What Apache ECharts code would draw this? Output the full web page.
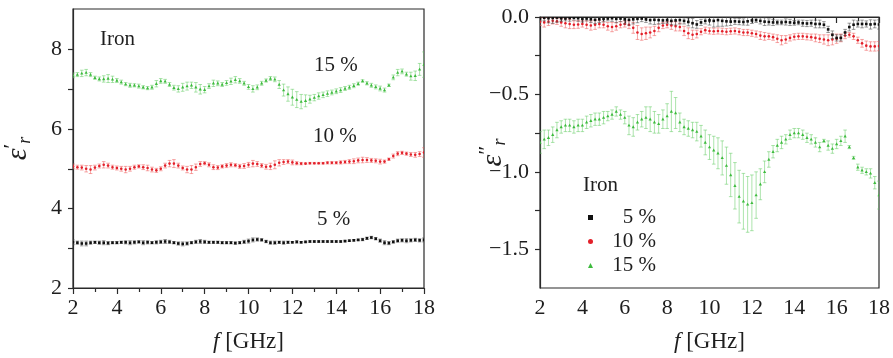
<!DOCTYPE html>
<html>
<head>
<meta charset="utf-8">
<script src="https://cdn.jsdelivr.net/npm/echarts@6/dist/echarts.min.js"></script>
<style>
html, body { margin: 0; padding: 0; background: #fff; }
#chart { width: 893px; height: 358px; }
</style>
</head>
<body>
<div id="chart"></div>
<script>
// frequency grid [GHz]
const freq = [
  2.0, 2.2, 2.4, 2.6, 2.8, 3.0, 3.2, 3.4, 3.6, 3.8,
  4.0, 4.2, 4.4, 4.6, 4.8, 5.0, 5.2, 5.4, 5.6, 5.8,
  6.0, 6.2, 6.4, 6.6, 6.8, 7.0, 7.2, 7.4, 7.6, 7.8,
  8.0, 8.2, 8.4, 8.6, 8.8, 9.0, 9.2, 9.4, 9.6, 9.8,
  10.0, 10.2, 10.4, 10.6, 10.8, 11.0, 11.2, 11.4, 11.6, 11.8,
  12.0, 12.2, 12.4, 12.6, 12.8, 13.0, 13.2, 13.4, 13.6, 13.8,
  14.0, 14.2, 14.4, 14.6, 14.8, 15.0, 15.2, 15.4, 15.6, 15.8,
  16.0, 16.2, 16.4, 16.6, 16.8, 17.0, 17.2, 17.4, 17.6, 17.8,
  18.0
];

// real part, eps'
const re15 = [
  7.35, 7.37, 7.40, 7.42, 7.37, 7.29, 7.26, 7.26, 7.27, 7.25,
  7.22, 7.18, 7.13, 7.10, 7.10, 7.08, 7.05, 7.03, 7.05, 7.14,
  7.21, 7.20, 7.12, 7.04, 7.01, 7.05, 7.08, 7.10, 7.05, 7.00,
  6.99, 7.08, 7.15, 7.15, 7.12, 7.16, 7.20, 7.24, 7.21, 7.15,
  7.06, 7.01, 7.05, 7.15, 7.22, 7.27, 7.25, 7.12, 6.98, 6.88,
  6.80, 6.74, 6.69, 6.71, 6.75, 6.79, 6.83, 6.86, 6.89, 6.92,
  6.95, 6.98, 7.02, 7.05, 7.09, 7.14, 7.21, 7.15, 7.10, 7.06,
  7.02, 6.98, 7.10, 7.30, 7.42, 7.45, 7.38, 7.33, 7.34, 7.50,
  7.62
];
const re15Err = [
  0.06, 0.05, 0.08, 0.08, 0.05, 0.04, 0.05, 0.08, 0.10, 0.08,
  0.05, 0.05, 0.04, 0.05, 0.04, 0.05, 0.04, 0.04, 0.05, 0.08,
  0.06, 0.05, 0.05, 0.06, 0.08, 0.10, 0.10, 0.08, 0.12, 0.12,
  0.08, 0.06, 0.08, 0.06, 0.05, 0.06, 0.08, 0.08, 0.06, 0.05,
  0.06, 0.08, 0.06, 0.05, 0.04, 0.05, 0.06, 0.10, 0.15, 0.18,
  0.20, 0.20, 0.18, 0.15, 0.10, 0.08, 0.08, 0.07, 0.07, 0.06,
  0.06, 0.06, 0.05, 0.05, 0.05, 0.04, 0.03, 0.04, 0.05, 0.05,
  0.06, 0.05, 0.03, 0.06, 0.08, 0.06, 0.05, 0.10, 0.12, 0.15,
  0.32
];
const re10 = [
  5.06, 5.04, 5.03, 5.00, 4.98, 5.03, 5.07, 5.10, 5.08, 5.04,
  5.02, 5.00, 4.98, 5.00, 5.04, 5.06, 5.04, 5.02, 4.98, 4.96,
  5.00, 5.08, 5.13, 5.13, 5.08, 5.02, 4.98, 4.98, 5.04, 5.12,
  5.14, 5.10, 5.04, 5.03, 5.06, 5.08, 5.10, 5.09, 5.06, 5.07,
  5.10, 5.13, 5.12, 5.08, 5.05, 5.06, 5.10, 5.15, 5.17, 5.18,
  5.16, 5.14, 5.13, 5.13, 5.14, 5.14, 5.14, 5.14, 5.15, 5.15,
  5.15, 5.16, 5.17, 5.18, 5.19, 5.21, 5.22, 5.22, 5.21, 5.20,
  5.18, 5.18, 5.24, 5.32, 5.38, 5.40, 5.38, 5.36, 5.35, 5.37,
  5.41
];
const re10Err = [
  0.06, 0.05, 0.06, 0.08, 0.10, 0.06, 0.05, 0.08, 0.06, 0.05,
  0.05, 0.06, 0.08, 0.06, 0.05, 0.04, 0.06, 0.07, 0.06, 0.05,
  0.05, 0.06, 0.08, 0.10, 0.06, 0.05, 0.08, 0.10, 0.08, 0.06,
  0.04, 0.05, 0.06, 0.05, 0.04, 0.05, 0.05, 0.04, 0.05, 0.06,
  0.06, 0.08, 0.06, 0.05, 0.06, 0.08, 0.10, 0.08, 0.06, 0.05,
  0.06, 0.04, 0.03, 0.02, 0.02, 0.02, 0.02, 0.02, 0.03, 0.03,
  0.03, 0.04, 0.04, 0.05, 0.06, 0.06, 0.07, 0.06, 0.05, 0.05,
  0.06, 0.04, 0.03, 0.05, 0.05, 0.04, 0.04, 0.05, 0.06, 0.06,
  0.12
];
const re5 = [
  3.15, 3.14, 3.12, 3.12, 3.14, 3.15, 3.14, 3.14, 3.13, 3.14,
  3.14, 3.15, 3.15, 3.14, 3.15, 3.16, 3.14, 3.15, 3.14, 3.15,
  3.16, 3.17, 3.16, 3.14, 3.12, 3.11, 3.12, 3.14, 3.16, 3.17,
  3.16, 3.15, 3.15, 3.15, 3.14, 3.14, 3.14, 3.13, 3.14, 3.16,
  3.18, 3.21, 3.22, 3.21, 3.17, 3.14, 3.14, 3.15, 3.14, 3.15,
  3.15, 3.16, 3.15, 3.16, 3.17, 3.17, 3.17, 3.17, 3.17, 3.17,
  3.17, 3.17, 3.18, 3.19, 3.20, 3.21, 3.22, 3.25, 3.27, 3.24,
  3.19, 3.14, 3.13, 3.16, 3.19, 3.20, 3.19, 3.20, 3.21, 3.20,
  3.21
];
const re5Err = [
  0.06, 0.04, 0.06, 0.06, 0.04, 0.03, 0.04, 0.05, 0.04, 0.03,
  0.03, 0.03, 0.04, 0.05, 0.04, 0.03, 0.05, 0.04, 0.03, 0.04,
  0.04, 0.05, 0.04, 0.03, 0.04, 0.05, 0.04, 0.03, 0.04, 0.05,
  0.04, 0.03, 0.03, 0.03, 0.03, 0.03, 0.03, 0.03, 0.03, 0.04,
  0.05, 0.05, 0.04, 0.03, 0.03, 0.04, 0.04, 0.03, 0.04, 0.03,
  0.02, 0.03, 0.02, 0.02, 0.02, 0.02, 0.02, 0.02, 0.02, 0.02,
  0.02, 0.02, 0.02, 0.02, 0.02, 0.02, 0.03, 0.03, 0.03, 0.03,
  0.04, 0.05, 0.04, 0.03, 0.04, 0.04, 0.05, 0.04, 0.04, 0.04,
  0.05
];

// imaginary part, eps''
const im5 = [
  -0.010, -0.005, -0.008, -0.006, -0.004, -0.008, -0.010, -0.007, -0.005, -0.008,
  -0.012, -0.010, -0.015, -0.018, -0.015, -0.012, -0.010, -0.008, -0.012, -0.010,
  -0.015, -0.018, -0.015, -0.012, -0.010, -0.015, -0.020, -0.018, -0.020, -0.022,
  -0.020, -0.025, -0.022, -0.020, -0.025, -0.032, -0.040, -0.048, -0.035, -0.025,
  -0.022, -0.025, -0.020, -0.025, -0.028, -0.030, -0.028, -0.030, -0.032, -0.028,
  -0.022, -0.020, -0.025, -0.030, -0.032, -0.035, -0.035, -0.035, -0.032, -0.035,
  -0.038, -0.035, -0.040, -0.042, -0.040, -0.045, -0.045, -0.050, -0.080, -0.115,
  -0.135, -0.135, -0.100, -0.065, -0.050, -0.045, -0.045, -0.045, -0.048, -0.045,
  -0.048
];
const im5Err = [
  0.015, 0.020, 0.030, 0.035, 0.030, 0.020, 0.015, 0.020, 0.015, 0.020,
  0.020, 0.015, 0.020, 0.025, 0.020, 0.020, 0.015, 0.020, 0.025, 0.020,
  0.030, 0.035, 0.030, 0.025, 0.020, 0.020, 0.025, 0.030, 0.025, 0.020,
  0.020, 0.025, 0.030, 0.025, 0.020, 0.025, 0.030, 0.025, 0.020, 0.020,
  0.030, 0.040, 0.040, 0.035, 0.030, 0.025, 0.020, 0.020, 0.020, 0.025,
  0.020, 0.015, 0.020, 0.025, 0.020, 0.020, 0.015, 0.015, 0.020, 0.020,
  0.015, 0.015, 0.020, 0.020, 0.020, 0.025, 0.025, 0.020, 0.020, 0.025,
  0.020, 0.020, 0.020, 0.025, 0.030, 0.020, 0.025, 0.020, 0.030, 0.025,
  0.030
];
const im10 = [
  -0.030, -0.035, -0.030, -0.025, -0.028, -0.035, -0.040, -0.045, -0.050, -0.048,
  -0.045, -0.050, -0.055, -0.050, -0.045, -0.050, -0.060, -0.065, -0.060, -0.050,
  -0.045, -0.050, -0.070, -0.100, -0.110, -0.105, -0.100, -0.090, -0.070, -0.055,
  -0.050, -0.055, -0.060, -0.065, -0.090, -0.105, -0.115, -0.110, -0.095, -0.085,
  -0.090, -0.092, -0.090, -0.092, -0.095, -0.092, -0.090, -0.095, -0.100, -0.100,
  -0.105, -0.110, -0.120, -0.125, -0.125, -0.130, -0.140, -0.150, -0.145, -0.135,
  -0.128, -0.125, -0.125, -0.128, -0.130, -0.135, -0.140, -0.145, -0.150, -0.145,
  -0.140, -0.135, -0.120, -0.115, -0.125, -0.150, -0.170, -0.185, -0.190, -0.190,
  -0.188
];
const im10Err = [
  0.025, 0.030, 0.025, 0.020, 0.020, 0.025, 0.030, 0.030, 0.025, 0.025,
  0.020, 0.025, 0.030, 0.030, 0.025, 0.020, 0.025, 0.030, 0.025, 0.020,
  0.020, 0.025, 0.035, 0.045, 0.040, 0.040, 0.035, 0.030, 0.025, 0.020,
  0.020, 0.025, 0.030, 0.025, 0.030, 0.035, 0.030, 0.025, 0.020, 0.020,
  0.020, 0.020, 0.020, 0.020, 0.020, 0.020, 0.020, 0.020, 0.020, 0.020,
  0.020, 0.020, 0.025, 0.025, 0.020, 0.020, 0.025, 0.030, 0.025, 0.020,
  0.020, 0.020, 0.020, 0.020, 0.020, 0.025, 0.025, 0.030, 0.035, 0.035,
  0.030, 0.025, 0.020, 0.015, 0.020, 0.020, 0.025, 0.030, 0.030, 0.030,
  0.030
];
const im15 = [
  -0.81, -0.79, -0.78, -0.76, -0.73, -0.71, -0.70, -0.70, -0.71, -0.70,
  -0.70, -0.68, -0.67, -0.66, -0.66, -0.65, -0.64, -0.63, -0.61, -0.63,
  -0.65, -0.70, -0.71, -0.68, -0.66, -0.65, -0.66, -0.68, -0.69, -0.66,
  -0.64, -0.61, -0.62, -0.68, -0.71, -0.72, -0.73, -0.74, -0.77, -0.81,
  -0.84, -0.86, -0.88, -0.91, -0.96, -1.02, -1.09, -1.16, -1.19, -1.21,
  -1.20, -1.15, -1.08, -1.00, -0.92, -0.87, -0.83, -0.81, -0.79, -0.76,
  -0.75, -0.75, -0.76, -0.78, -0.79, -0.81, -0.84, -0.80, -0.83, -0.85,
  -0.82, -0.80, -0.77, -0.84, -0.91, -0.97, -0.99, -1.00, -1.01, -1.07,
  -1.15
];
const im15Err = [
  0.07, 0.06, 0.05, 0.05, 0.05, 0.04, 0.04, 0.04, 0.04, 0.04,
  0.04, 0.04, 0.04, 0.04, 0.04, 0.04, 0.03, 0.03, 0.03, 0.03,
  0.04, 0.06, 0.06, 0.05, 0.05, 0.07, 0.08, 0.07, 0.06, 0.06,
  0.08, 0.13, 0.10, 0.06, 0.05, 0.05, 0.05, 0.06, 0.07, 0.08,
  0.08, 0.09, 0.10, 0.11, 0.12, 0.14, 0.15, 0.17, 0.18, 0.18,
  0.18, 0.15, 0.10, 0.07, 0.05, 0.04, 0.04, 0.04, 0.03, 0.03,
  0.03, 0.03, 0.03, 0.03, 0.03, 0.03, 0.03, 0.01, 0.03, 0.03,
  0.03, 0.03, 0.04, 0.01, 0.01, 0.02, 0.02, 0.02, 0.03, 0.04,
  0.09
];

// tick positions
const leftLabels = [2, 4, 6, 8];
const leftTicks = [2, 3, 4, 5, 6, 7, 8];
const rightLabels = [0, -0.5, -1.0, -1.5];
const rightTicks = [0, -0.25, -0.5, -0.75, -1.0, -1.25, -1.5];

const FONT = '"Liberation Serif", "DejaVu Serif", serif';
const AXIS = '#2a2a2a';
const TXT = '#1e1e1e';
const BLACK = '#111111', RED = '#e3202a', GREEN = '#3dbb3d';

function markerShape(shape, cx, cy, color) {
  if (shape === 'rect') {
    return { type: 'rect', shape: { x: cx - 1.3, y: cy - 1.3, width: 2.6, height: 2.6 }, style: { fill: color } };
  }
  if (shape === 'circle') {
    return { type: 'circle', shape: { cx: cx, cy: cy, r: 1.3 }, style: { fill: color } };
  }
  return { type: 'polygon', shape: { points: [[cx, cy - 1.7], [cx - 1.6, cy + 1.2], [cx + 1.6, cy + 1.2]] }, style: { fill: color } };
}

function errSeries(name, gi, vals, errs, color, barColor, shape) {
  return {
    name: name,
    type: 'custom',
    xAxisIndex: gi,
    yAxisIndex: gi,
    clip: true,
    itemStyle: { color: color },
    data: freq.map((f, i) => [f, vals[i], errs[i]]),
    renderItem: function (params, api) {
      const x = api.value(0), y = api.value(1), e = api.value(2);
      const c = api.coord([x, y]);
      const hi = api.coord([x, y + e]);
      const lo = api.coord([x, y - e]);
      const cap = 1.8;
      const ls = { stroke: barColor, lineWidth: 0.9 };
      return {
        type: 'group',
        children: [
          { type: 'line', shape: { x1: c[0], y1: hi[1], x2: c[0], y2: lo[1] }, style: ls },
          { type: 'line', shape: { x1: c[0] - cap, y1: hi[1], x2: c[0] + cap, y2: hi[1] }, style: ls },
          { type: 'line', shape: { x1: c[0] - cap, y1: lo[1], x2: c[0] + cap, y2: lo[1] }, style: ls },
          markerShape(shape, c[0], c[1], color)
        ]
      };
    }
  };
}

const tickStyle = { color: AXIS, width: 1.2 };
const labelStyle = { color: TXT, fontFamily: FONT, fontSize: 22, margin: 11 };

function xAx(gi) {
  return {
    type: 'value', gridIndex: gi, min: 2, max: 18, interval: 2,
    name: '{i|f} [GHz]', nameLocation: 'middle', nameGap: 42, nameMoveOverlap: false,
    nameTextStyle: {
      fontFamily: FONT, fontSize: 23, color: TXT,
      rich: { i: { fontFamily: FONT, fontSize: 23, fontStyle: 'italic', color: TXT } }
    },
    axisLine: { lineStyle: tickStyle },
    axisTick: { length: 6, lineStyle: tickStyle },
    minorTick: { show: true, splitNumber: 2, length: 4, lineStyle: tickStyle },
    splitLine: { show: false },
    axisLabel: Object.assign({}, labelStyle, { margin: 9 })
  };
}

const epsName = (primes) => ({
  name: '{e|ε}{p|' + primes + '}{s|r}',
  nameLocation: 'middle',
  nameRotate: 90,
  nameMoveOverlap: false,
  nameTextStyle: {
    color: TXT,
    rich: {
      e: { fontFamily: FONT, fontSize: 30, fontStyle: 'italic', color: TXT },
      p: { fontFamily: FONT, fontSize: 22, color: TXT, padding: [0, 0, 12, 0] },
      s: { fontFamily: FONT, fontSize: 18, fontStyle: 'italic', color: TXT, padding: [14, 0, 0, 0] }
    }
  }
});

const chart = echarts.init(document.getElementById('chart'), null, { renderer: 'canvas' });

const option = {
  animation: false,
  backgroundColor: '#fff',
  grid: [
    { left: 73, top: 9, width: 351, height: 281, show: true, borderColor: AXIS, borderWidth: 1.2 },
    { left: 540, top: 17, width: 339, height: 273, show: true, borderColor: AXIS, borderWidth: 1.2 }
  ],
  xAxis: [xAx(0), xAx(1)],
  yAxis: [
    Object.assign({
      type: 'value', gridIndex: 0, min: 2, max: 9.02, nameGap: 38, position: 'left',
      axisLine: { lineStyle: tickStyle },
      axisTick: { length: 5, lineStyle: tickStyle, customValues: leftTicks },
      splitLine: { show: false },
      axisLabel: Object.assign({ customValues: leftLabels }, labelStyle)
    }, epsName('′')),
    Object.assign({
      type: 'value', gridIndex: 1, min: -1.75, max: 0, nameGap: 30, position: 'left',
      axisLine: { lineStyle: tickStyle },
      axisTick: { length: 5, lineStyle: tickStyle, customValues: rightTicks },
      splitLine: { show: false },
      axisLabel: Object.assign({
        customValues: rightLabels,
        formatter: (v) => (v === 0 ? '0.0' : '\u2212' + Math.abs(v).toFixed(1))
      }, labelStyle)
    }, epsName('″'))
  ],
  legend: {
    orient: 'vertical',
    left: 583,
    top: 202,
    itemWidth: 5,
    itemHeight: 5,
    itemGap: 3,
    data: [
      { name: '5 %', icon: 'rect' },
      { name: '10 %', icon: 'circle' },
      { name: '15 %', icon: 'triangle' }
    ],
    formatter: (n) => '{r|' + n + '}',
    textStyle: {
      rich: { r: { fontFamily: FONT, fontSize: 21, color: TXT, width: 58, align: 'right', lineHeight: 23 } }
    }
  },
  graphic: [
    { type: 'text', left: 100, top: 29, style: { text: 'Iron', font: '21px ' + FONT, fill: TXT } },
    { type: 'text', left: 314, top: 55, style: { text: '15 %', font: '21px ' + FONT, fill: TXT } },
    { type: 'text', left: 313, top: 126, style: { text: '10 %', font: '21px ' + FONT, fill: TXT } },
    { type: 'text', left: 317, top: 209, style: { text: '5 %', font: '21px ' + FONT, fill: TXT } },
    { type: 'text', left: 583, top: 175, style: { text: 'Iron', font: '21px ' + FONT, fill: TXT } }
  ],
  series: [
    errSeries('15 %', 0, re15, re15Err, GREEN, 'rgba(100,205,100,0.6)', 'triangle'),
    errSeries('10 %', 0, re10, re10Err, RED, 'rgba(238,90,90,0.6)', 'circle'),
    errSeries('5 %', 0, re5, re5Err, BLACK, 'rgba(70,70,70,0.6)', 'rect'),
    errSeries('15 %', 1, im15, im15Err, GREEN, 'rgba(100,205,100,0.6)', 'triangle'),
    errSeries('10 %', 1, im10, im10Err, RED, 'rgba(238,90,90,0.6)', 'circle'),
    errSeries('5 %', 1, im5, im5Err, BLACK, 'rgba(70,70,70,0.6)', 'rect')
  ]
};

chart.setOption(option);
</script>
</body>
</html>
